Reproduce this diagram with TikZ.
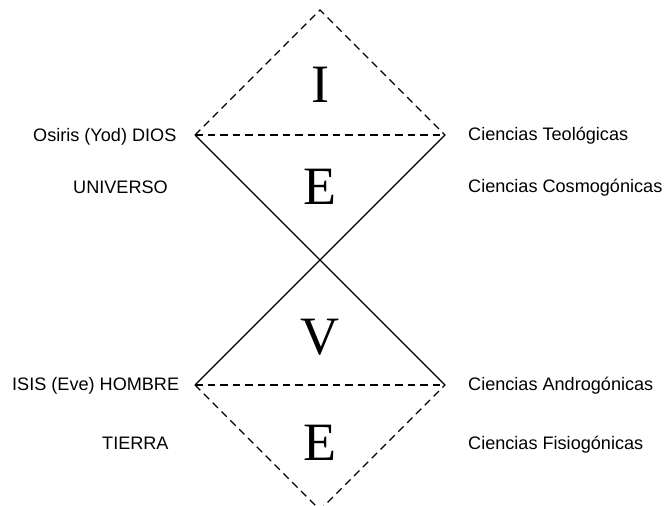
\documentclass[tikz,border=0pt]{standalone}
\usepackage{fontspec}
\setmainfont{Liberation Serif}
\newfontfamily\labelfont{Liberation Sans}
\begin{document}
\begin{tikzpicture}[x=1pt,y=-1pt,
  solidline/.style={line width=1.4pt},
  dashline/.style={line width=1.4pt,dash pattern=on 7.5pt off 5pt},
  bigletter/.style={font=\fontsize{54}{60}\selectfont,inner sep=0pt,anchor=base},
  lbl/.style={font=\labelfont\fontsize{18.1}{20}\selectfont,inner sep=0pt}]
\useasboundingbox (0,0) rectangle (665,506);
\fill[white] (0,0) rectangle (665,506);
\coordinate (top) at (320,10);
\coordinate (tl) at (195,135);
\coordinate (tr) at (445,135);
\coordinate (bl) at (195,385);
\coordinate (br) at (445,385);
\coordinate (bot) at (320,510);
\draw[dashline] (tl) -- (top) -- (tr);
\draw[dashline] (tl) -- (tr);
\draw[dashline] (bl) -- (br);
\draw[dashline] (bl) -- (bot) -- (br);
\draw[solidline] (tl) -- (br);
\draw[solidline] (tr) -- (bl);
\node[bigletter] (lI) at (320,102) {I};
\node[bigletter] (lE1) at (320,204) {E};
\node[bigletter] (lV) at (320,354) {V};
\node[bigletter] (lE2) at (320,460) {E};
\node[lbl,anchor=base west] (osiris) at (33,141.5) {Osiris (Yod) DIOS};
\node[lbl,anchor=base west] (universo) at (73,193) {UNIVERSO};
\node[lbl,anchor=base west] (isis) at (12,390.5) {ISIS (Eve) HOMBRE};
\node[lbl,anchor=base west] (tierra) at (102,449) {TIERRA};
\node[lbl,anchor=base west] (teo) at (468,140.7) {Ciencias Teológicas};
\node[lbl,anchor=base west] (cosmo) at (468,192) {Ciencias Cosmogónicas};
\node[lbl,anchor=base west] (andro) at (468,390) {Ciencias Androgónicas};
\node[lbl,anchor=base west] (fisio) at (468,449.5) {Ciencias Fisiogónicas};
\end{tikzpicture}
\end{document}
